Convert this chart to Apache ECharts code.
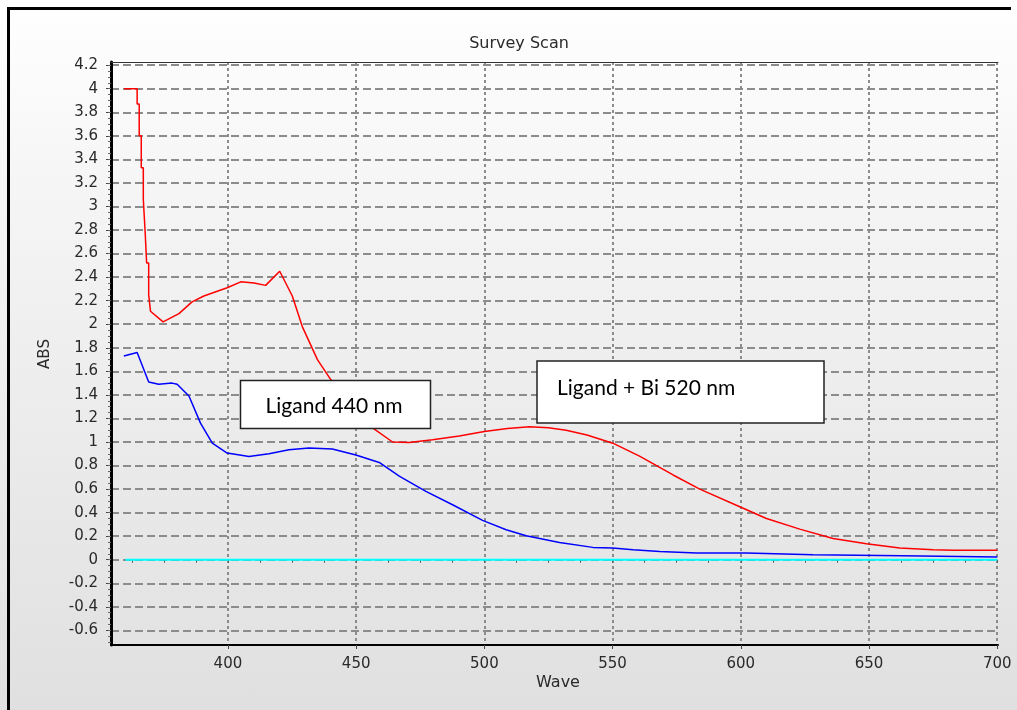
<!DOCTYPE html>
<html>
<head>
<meta charset="utf-8">
<script src="https://cdn.jsdelivr.net/npm/echarts@6/dist/echarts.min.js"></script>
<style>
html,body{margin:0;padding:0;}
#wrap{position:relative;width:1017px;height:710px;background:linear-gradient(to bottom,#ffffff 0%,#f4f4f4 30%,#eaeaea 65%,#e0e0e0 100%);overflow:hidden;}
#chart{position:absolute;left:0;top:0;width:1017px;height:710px;}
.bd{position:absolute;background:#000;}
</style>
</head>
<body>
<div id="wrap">
<div id="chart"></div>
<div class="bd" style="left:7px;top:7px;width:1004px;height:3px;"></div>
<div class="bd" style="left:7px;top:7px;width:3px;height:703px;"></div>
</div>
<script>
// Tick labels
const xTicks = [400, 450, 500, 550, 600, 650, 700];
const yTicks = [-0.6, -0.4, -0.2, 0, 0.2, 0.4, 0.6, 0.8, 1, 1.2, 1.4, 1.6, 1.8, 2, 2.2, 2.4, 2.6, 2.8, 3, 3.2, 3.4, 3.6, 3.8, 4, 4.2];

// Ligand + Bi (red)
const redWave = [359.5, 364.6, 364.6, 365.4, 365.4, 366.2, 366.2, 367.0, 367.0, 367.7, 367.7, 368.3, 368.3, 369.1, 369.1, 369.8, 369.8,
  374.7, 380.9, 386.0, 390.6, 399.7, 405.0, 410.2, 414.7, 420.2, 425.1, 429.0, 434.9, 440.1, 448.0, 456.4, 464.2, 470.7,
  479.8, 490.2, 500.0, 509.0, 517.6, 525.0, 531.9, 540.0, 550.1, 560.5, 573.6, 584.0, 599.6, 610.0, 623.0, 636.0, 649.0,
  662.0, 675.0, 683.0, 700.0];
const redAbs = [4.00, 4.00, 3.87, 3.87, 3.60, 3.60, 3.33, 3.33, 3.06, 3.06, 2.79, 2.79, 2.52, 2.52, 2.25, 2.25, 2.11,
  2.02, 2.09, 2.19, 2.24, 2.31, 2.36, 2.35, 2.33, 2.45, 2.24, 1.98, 1.70, 1.53, 1.32, 1.12, 1.00, 0.996,
  1.02, 1.05, 1.09, 1.115, 1.13, 1.12, 1.10, 1.06, 0.99, 0.88, 0.72, 0.60, 0.45, 0.35, 0.26, 0.18, 0.136,
  0.10, 0.085, 0.08, 0.08];

// Ligand (blue)
const blueWave = [359.4, 364.6, 369.1, 373.0, 378.2, 380.2, 384.8, 389.3, 393.9, 399.7, 408.2, 416.0, 423.8, 431.6, 440.7,
  449.9, 459.0, 466.8, 477.2, 487.6, 499.3, 508.5, 516.3, 529.3, 542.3, 550.0, 558.0, 568.4, 582.7, 602.2, 602.4,
  628.2, 628.4, 662.8, 663.0, 700.0];
const blueAbs = [1.73, 1.76, 1.51, 1.49, 1.50, 1.49, 1.39, 1.16, 0.99, 0.906, 0.877, 0.90, 0.934, 0.95, 0.94,
  0.89, 0.826, 0.71, 0.58, 0.467, 0.334, 0.255, 0.204, 0.147, 0.105, 0.100, 0.085, 0.07, 0.057, 0.057, 0.042,
  0.042, 0.034, 0.034, 0.023, 0.023];

// Baseline (cyan)
const baseWave = [360, 700];
const baseAbs = [0, 0];

const xMin = 354.4, xMax = 700.3;
const yMin = -0.724, yMax = 4.227;

function pairs(xs, ys) { return xs.map((x, i) => [x, ys[i]]); }
const xMinor = [];
for (let v = 362.5; v <= 700; v += 12.5) xMinor.push(v);
const yMinor = [];
for (let k = -14; k <= 84; k++) yMinor.push(+(k * 0.05).toFixed(2));

const chart = echarts.init(document.getElementById('chart'), null, {renderer: 'canvas'});
const fontFam = '"DejaVu Sans", Verdana, sans-serif';
const lblColor = '#2a2a2a';
chart.setOption({
  backgroundColor: 'transparent',
  animation: false,
  grid: {left: 111, right: 19, top: 62, bottom: 65, containLabel: false},
  xAxis: [{
    type: 'value', min: xMin, max: xMax,
    axisLine: {show: true, onZero: false, lineStyle: {color: '#000', width: 2}},
    axisTick: {show: true, customValues: xTicks, length: 4, lineStyle: {color: '#444', width: 1}},
    axisLabel: {show: true, customValues: xTicks, margin: 12, color: lblColor, fontFamily: fontFam, fontSize: 15},
    splitLine: {show: true, lineStyle: {color: '#8c8c8c', width: 2, type: [3, 3]}}
  }, {
    type: 'value', min: xMin, max: xMax, position: 'bottom',
    axisLine: {show: false}, axisLabel: {show: false}, splitLine: {show: false},
    axisTick: {show: true, customValues: xMinor, length: 3, lineStyle: {color: '#555', width: 1}}
  }, {
    type: 'value', min: xMin, max: xMax, position: 'top',
    axisLine: {show: true, onZero: false, lineStyle: {color: '#333', width: 1}},
    axisLabel: {show: false}, splitLine: {show: false}, axisTick: {show: false}
  }],
  yAxis: [{
    type: 'value', min: yMin, max: yMax,
    axisLine: {show: true, onZero: false, lineStyle: {color: '#000', width: 3}},
    axisTick: {show: true, customValues: yTicks, length: 5, lineStyle: {color: '#444', width: 1}},
    axisLabel: {show: true, customValues: yTicks, margin: 13, color: lblColor, fontFamily: fontFam, fontSize: 15},
    splitLine: {show: true, lineStyle: {color: '#8c8c8c', width: 2, type: [8, 4]}}
  }, {
    type: 'value', min: yMin, max: yMax, position: 'left',
    axisLine: {show: false}, axisLabel: {show: false}, splitLine: {show: false},
    axisTick: {show: true, customValues: yMinor, length: 3, lineStyle: {color: '#666', width: 1}}
  }],
  series: [
    {type: 'line', data: pairs(baseWave, baseAbs), showSymbol: false, symbol: 'none', lineStyle: {color: '#00ffff', width: 2}, z: 3},
    {type: 'line', data: pairs(blueWave, blueAbs), showSymbol: false, symbol: 'none', lineStyle: {color: '#0000ff', width: 1.5}, z: 4},
    {type: 'line', data: pairs(redWave, redAbs), showSymbol: false, symbol: 'none', lineStyle: {color: '#ff0000', width: 1.5}, z: 5}
  ],
  graphic: [
    {type: 'text', x: 519, y: 44, style: {text: 'Survey Scan', fill: '#2a2a2a', font: '16px "DejaVu Sans"', textAlign: 'center', textVerticalAlign: 'middle'}, z: 10},
    {type: 'text', x: 45, y: 354, rotation: Math.PI / 2, style: {text: 'ABS', fill: '#2a2a2a', font: '15px "DejaVu Sans"', textAlign: 'center', textVerticalAlign: 'middle'}, z: 10},
    {type: 'text', x: 558, y: 683, style: {text: 'Wave', fill: '#2a2a2a', font: '16px "DejaVu Sans"', textAlign: 'center', textVerticalAlign: 'middle'}, z: 10},
    {type: 'rect', shape: {x: 240.5, y: 380.5, width: 190, height: 48}, style: {fill: '#fff', stroke: '#222', lineWidth: 1.5}, z: 20},
    {type: 'text', x: 334, y: 406, style: {text: 'Ligand 440 nm', fill: '#000', font: '21px Lato', textAlign: 'center', textVerticalAlign: 'middle'}, z: 21},
    {type: 'rect', shape: {x: 537, y: 361, width: 287, height: 62}, style: {fill: '#fff', stroke: '#222', lineWidth: 1.5}, z: 20},
    {type: 'text', x: 557, y: 388, style: {text: 'Ligand + Bi 520 nm', fill: '#000', font: '21px Lato', textAlign: 'left', textVerticalAlign: 'middle'}, z: 21}
  ]
});
</script>
</body>
</html>
